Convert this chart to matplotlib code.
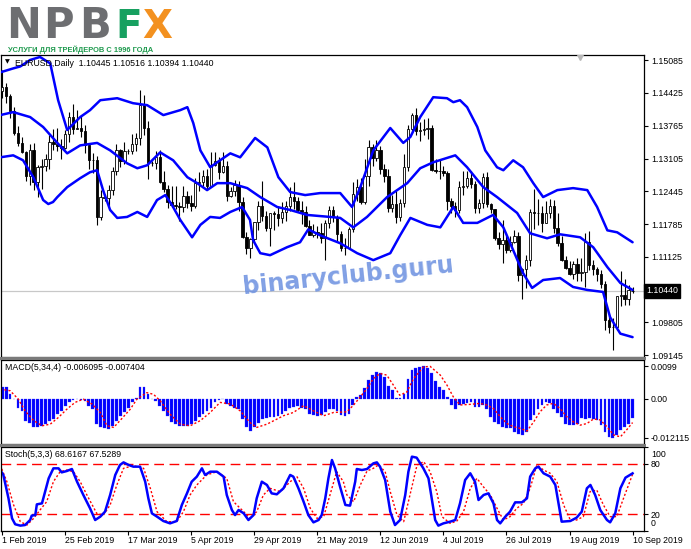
import numpy as np
import matplotlib
matplotlib.use("Agg")
import matplotlib.pyplot as plt
from matplotlib.patches import Rectangle
import matplotlib.transforms as mtransforms
from matplotlib import font_manager

# ---- data (EURUSD daily, 1 Feb 2019 - 10 Sep 2019) ----
x_labels = ["1 Feb 2019", "25 Feb 2019", "17 Mar 2019", "5 Apr 2019", "29 Apr 2019",
            "21 May 2019", "12 Jun 2019", "4 Jul 2019", "26 Jul 2019", "19 Aug 2019",
            "10 Sep 2019"]
x_label_bars = [0, 16, 32, 48, 64, 80, 96, 112, 128, 144, 160]

opens = [1.1446, 1.1455, 1.1437, 1.1406, 1.1362, 1.1342, 1.1323, 1.1275, 1.1327, 1.1263,
         1.1294, 1.1295, 1.1309, 1.1343, 1.1339, 1.1336, 1.1331, 1.1359, 1.1395, 1.1371,
         1.1372, 1.1365, 1.1337, 1.1307, 1.1308, 1.1193, 1.1234, 1.1232, 1.1247, 1.1286,
         1.1327, 1.1305, 1.1326, 1.1325, 1.1339, 1.1352, 1.1418, 1.1373, 1.1301, 1.1302,
         1.1313, 1.1264, 1.1250, 1.1223, 1.1218, 1.1215, 1.1213, 1.1235, 1.1221, 1.1216,
         1.1262, 1.1264, 1.1275, 1.1256, 1.1297, 1.1305, 1.1284, 1.1295, 1.1235, 1.1246,
         1.1258, 1.1224, 1.1152, 1.1130, 1.1148, 1.1182, 1.1215, 1.1195, 1.1170, 1.1200,
         1.1198, 1.1190, 1.1203, 1.1215, 1.1234, 1.1225, 1.1206, 1.1203, 1.1174, 1.1157,
         1.1163, 1.1160, 1.1150, 1.1180, 1.1206, 1.1193, 1.1158, 1.1130, 1.1130, 1.1168,
         1.1240, 1.1253, 1.1223, 1.1276, 1.1333, 1.1312, 1.1327, 1.1290, 1.1275, 1.1210,
         1.1220, 1.1193, 1.1222, 1.1293, 1.1370, 1.1398, 1.1366, 1.1368, 1.1370, 1.1373,
         1.1287, 1.1286, 1.1285, 1.1282, 1.1226, 1.1214, 1.1207, 1.1253, 1.1256, 1.1271,
         1.1260, 1.1211, 1.1222, 1.1274, 1.1219, 1.1209, 1.1151, 1.1139, 1.1146, 1.1127,
         1.1142, 1.1154, 1.1077, 1.1088, 1.1107, 1.1203, 1.1200, 1.1201, 1.1181, 1.1201,
         1.1214, 1.1170, 1.1140, 1.1107, 1.1091, 1.1078, 1.1098, 1.1081, 1.1083, 1.1143,
         1.1097, 1.1088, 1.1078, 1.1057, 1.0985, 1.0971, 1.0972, 1.1033, 1.1036, 1.1027,
         1.10445]
highs = [1.1488, 1.1462, 1.1441, 1.1414, 1.1377, 1.1354, 1.1326, 1.1340, 1.1341, 1.1297,
         1.1309, 1.1319, 1.1357, 1.1371, 1.1372, 1.1349, 1.1368, 1.1405, 1.1420, 1.1409,
         1.1398, 1.1378, 1.1339, 1.1322, 1.1316, 1.1248, 1.1240, 1.1257, 1.1293, 1.1339,
         1.1330, 1.1344, 1.1330, 1.1360, 1.1362, 1.1448, 1.1438, 1.1387, 1.1305, 1.1325,
         1.1327, 1.1285, 1.1257, 1.1255, 1.1255, 1.1223, 1.1255, 1.1245, 1.1237, 1.1272,
         1.1283, 1.1287, 1.1289, 1.1324, 1.1323, 1.1314, 1.1324, 1.1306, 1.1254, 1.1267,
         1.1265, 1.1234, 1.1162, 1.1151, 1.1183, 1.1225, 1.1265, 1.1205, 1.1200, 1.1205,
         1.1216, 1.1223, 1.1226, 1.1254, 1.1264, 1.1233, 1.1226, 1.1215, 1.1186, 1.1178,
         1.1175, 1.1180, 1.1187, 1.1214, 1.1216, 1.1196, 1.1165, 1.1150, 1.1172, 1.1264,
         1.1270, 1.1272, 1.1310, 1.1347, 1.1340, 1.1348, 1.1335, 1.1300, 1.1290, 1.1237,
         1.1245, 1.1230, 1.1320, 1.1378, 1.1403, 1.1412, 1.1384, 1.1390, 1.1393, 1.1378,
         1.1310, 1.1308, 1.1295, 1.1286, 1.1232, 1.1223, 1.1265, 1.1286, 1.1286, 1.1285,
         1.1265, 1.1229, 1.1282, 1.1283, 1.1222, 1.1209, 1.1163, 1.1187, 1.1160, 1.1154,
         1.1166, 1.1163, 1.1090, 1.1116, 1.1208, 1.1250, 1.1229, 1.1216, 1.1225, 1.1230,
         1.1227, 1.1200, 1.1155, 1.1114, 1.1104, 1.1104, 1.1110, 1.1110, 1.1160, 1.1164,
         1.1106, 1.1092, 1.1087, 1.1065, 1.0996, 1.0990, 1.1034, 1.1085, 1.1068, 1.1055,
         1.10516]
lows = [1.1432, 1.1423, 1.1392, 1.1358, 1.1336, 1.1321, 1.1266, 1.1258, 1.1248, 1.1234,
        1.1249, 1.1285, 1.1289, 1.1328, 1.1325, 1.1310, 1.1329, 1.1344, 1.1360, 1.1370,
        1.1353, 1.1321, 1.1290, 1.1282, 1.1176, 1.1187, 1.1226, 1.1216, 1.1238, 1.1278,
        1.1294, 1.1300, 1.1320, 1.1320, 1.1325, 1.1338, 1.1357, 1.1270, 1.1296, 1.1290,
        1.1262, 1.1243, 1.1211, 1.1213, 1.1208, 1.1184, 1.1202, 1.1210, 1.1205, 1.1210,
        1.1245, 1.1255, 1.1248, 1.1254, 1.1296, 1.1269, 1.1282, 1.1226, 1.1234, 1.1235,
        1.1205, 1.1150, 1.1118, 1.1110, 1.1141, 1.1167, 1.1185, 1.1165, 1.1135, 1.1166,
        1.1175, 1.1181, 1.1185, 1.1205, 1.1209, 1.1203, 1.1178, 1.1173, 1.1157, 1.1153,
        1.1150, 1.1140, 1.1106, 1.1170, 1.1183, 1.1145, 1.1125, 1.1116, 1.1128, 1.1162,
        1.1225, 1.1220, 1.1220, 1.1255, 1.1296, 1.1305, 1.1280, 1.1263, 1.1202, 1.1203,
        1.1181, 1.1185, 1.1213, 1.1285, 1.1365, 1.1357, 1.1346, 1.1358, 1.1350, 1.1285,
        1.1281, 1.1270, 1.1275, 1.1207, 1.1201, 1.1193, 1.1200, 1.1237, 1.1251, 1.1252,
        1.1200, 1.1200, 1.1210, 1.1213, 1.1201, 1.1147, 1.1128, 1.1101, 1.1120, 1.1122,
        1.1140, 1.1065, 1.1027, 1.1050, 1.1094, 1.1168, 1.1176, 1.1163, 1.1180, 1.1190,
        1.1160, 1.1135, 1.1104, 1.1088, 1.1076, 1.1069, 1.1065, 1.1064, 1.1051, 1.1087,
        1.1076, 1.1065, 1.1050, 1.0965, 1.0959, 1.0926, 1.0966, 1.1013, 1.1015, 1.1015,
        1.10394]
closes = [1.1455, 1.1437, 1.1406, 1.1362, 1.1342, 1.1323, 1.1275, 1.1327, 1.1263, 1.1294,
          1.1295, 1.1309, 1.1343, 1.1339, 1.1336, 1.1331, 1.1359, 1.1395, 1.1371, 1.1372,
          1.1365, 1.1337, 1.1307, 1.1308, 1.1193, 1.1234, 1.1232, 1.1247, 1.1286, 1.1327,
          1.1305, 1.1326, 1.1325, 1.1339, 1.1352, 1.1418, 1.1373, 1.1301, 1.1302, 1.1313,
          1.1264, 1.1250, 1.1223, 1.1218, 1.1215, 1.1213, 1.1235, 1.1221, 1.1216, 1.1262,
          1.1264, 1.1275, 1.1256, 1.1297, 1.1305, 1.1284, 1.1295, 1.1235, 1.1246, 1.1258,
          1.1224, 1.1152, 1.1130, 1.1148, 1.1182, 1.1215, 1.1195, 1.1170, 1.1200, 1.1198,
          1.1190, 1.1203, 1.1215, 1.1234, 1.1225, 1.1206, 1.1203, 1.1174, 1.1157, 1.1163,
          1.1160, 1.1150, 1.1180, 1.1206, 1.1193, 1.1158, 1.1130, 1.1130, 1.1168, 1.1240,
          1.1253, 1.1223, 1.1276, 1.1333, 1.1312, 1.1327, 1.1290, 1.1275, 1.1210, 1.1220,
          1.1193, 1.1222, 1.1293, 1.1370, 1.1398, 1.1366, 1.1368, 1.1370, 1.1373, 1.1287,
          1.1286, 1.1285, 1.1282, 1.1226, 1.1214, 1.1207, 1.1253, 1.1256, 1.1271, 1.1260,
          1.1211, 1.1222, 1.1274, 1.1219, 1.1209, 1.1151, 1.1139, 1.1146, 1.1127, 1.1142,
          1.1154, 1.1077, 1.1088, 1.1107, 1.1203, 1.1200, 1.1201, 1.1181, 1.1201, 1.1214,
          1.1170, 1.1140, 1.1107, 1.1091, 1.1078, 1.1098, 1.1081, 1.1083, 1.1143, 1.1097,
          1.1088, 1.1078, 1.1057, 1.0985, 1.0971, 1.0972, 1.1033, 1.1036, 1.1027, 1.1045,
          1.10440]

# Bollinger bands (20, 2): bar position, price
bb_upper_bars = [-0.5, 2.8, 4.6, 7.1, 9.6, 12.2, 14.2, 16.5, 19.8, 22.3, 24.9, 29.2, 33.2,
                 36.8, 40.9, 45.2, 47.0, 48.5, 50.3, 52.8, 55.3, 57.9, 60.4, 64.2, 67.3,
                 70.1, 73.1, 76.9, 80.7, 85.8, 88.8, 90.9, 94.2, 98.5, 101.8, 103.6, 106.1,
                 109.4, 112.9, 114.5, 116.2, 118.0, 120.6, 122.6, 125.6, 127.2, 129.7, 132.2,
                 134.8, 137.3, 140.9, 144.9, 148.5, 151.0, 153.6, 156.1, 160.0]
bb_upper = [1.1484, 1.1492, 1.1496, 1.1509, 1.1515, 1.1502, 1.1428, 1.1368, 1.1394, 1.1408,
            1.1428, 1.1432, 1.1422, 1.1418, 1.1398, 1.1408, 1.1414, 1.1382, 1.1327, 1.1293,
            1.1307, 1.1321, 1.1313, 1.1352, 1.1333, 1.1273, 1.1243, 1.1237, 1.1241, 1.1241,
            1.1213, 1.1253, 1.1327, 1.1372, 1.1342, 1.1354, 1.1394, 1.1434, 1.1432, 1.1424,
            1.1428, 1.1414, 1.1374, 1.1327, 1.1293, 1.1287, 1.1307, 1.1293, 1.1261, 1.1233,
            1.1247, 1.1251, 1.1247, 1.1213, 1.1166, 1.1162, 1.1142]
bb_middle_bars = [-0.5, 2.8, 7.1, 10.4, 14.0, 16.5, 19.8, 24.1, 27.4, 31.7, 34.3, 36.8, 40.1,
                  43.4, 47.0, 49.5, 52.0, 54.6, 57.9, 62.2, 65.5, 69.8, 73.1, 77.4, 83.2,
                  85.8, 89.1, 92.6, 97.7, 102.8, 106.1, 109.4, 115.0, 118.0, 122.1, 125.6,
                  130.7, 134.0, 138.3, 141.6, 146.7, 150.0, 153.6, 156.9, 160.0]
bb_middle = [1.1398, 1.1404, 1.1394, 1.1374, 1.1342, 1.1321, 1.1337, 1.1342, 1.1327, 1.1301,
             1.1291, 1.1297, 1.1323, 1.1307, 1.1273, 1.1261, 1.1247, 1.1261, 1.1261, 1.1251,
             1.1233, 1.1213, 1.1207, 1.1197, 1.1193, 1.1191, 1.1172, 1.1193, 1.1233, 1.1261,
             1.1291, 1.1303, 1.1317, 1.1293, 1.1253, 1.1233, 1.1201, 1.1160, 1.1150, 1.1158,
             1.1152, 1.1132, 1.1092, 1.1060, 1.1046]
bb_lower_bars = [-0.5, 2.8, 5.3, 7.9, 10.4, 11.7, 12.9, 14.0, 16.5, 19.8, 22.3, 24.1, 25.6,
                 27.4, 29.2, 31.7, 34.3, 36.8, 39.3, 41.4, 43.1, 45.2, 48.2, 50.3, 52.8,
                 55.3, 57.9, 60.9, 62.9, 63.7, 65.5, 68.0, 72.3, 75.6, 77.7, 80.7, 85.8,
                 90.1, 94.2, 98.5, 101.0, 103.6, 107.9, 111.2, 114.5, 117.0, 120.6, 124.6,
                 127.2, 129.7, 132.2, 134.5, 137.3, 141.6, 144.9, 148.5, 152.5, 154.3,
                 156.9, 160.0]
bb_lower = [1.1313, 1.1317, 1.1307, 1.1273, 1.1227, 1.1219, 1.1223, 1.1233, 1.1253, 1.1271,
            1.1283, 1.1287, 1.1247, 1.1207, 1.1191, 1.1193, 1.1203, 1.1193, 1.1227, 1.1237,
            1.1217, 1.1187, 1.1152, 1.1177, 1.1193, 1.1191, 1.1203, 1.1213, 1.1187, 1.1146,
            1.1120, 1.1116, 1.1132, 1.1142, 1.1168, 1.1156, 1.1140, 1.1120, 1.1106, 1.1120,
            1.1156, 1.1191, 1.1177, 1.1172, 1.1213, 1.1181, 1.1181, 1.1197, 1.1172, 1.1126,
            1.1080, 1.1050, 1.1066, 1.1070, 1.1052, 1.1046, 1.1042, 1.0991, 1.0958, 1.0951]

price_ticks = [1.15085, 1.14425, 1.13765, 1.13105, 1.12445, 1.11785, 1.11125, 1.09805, 1.09145]
last_price = 1.10440

# MACD(5,34,4) histogram, one value per bar
macd_hist = [0.0036, 0.0034, 0.0015, -0.0003, -0.0028, -0.0038, -0.0068, -0.0074, -0.0089, -0.0089,
             -0.0086, -0.0079, -0.0068, -0.0063, -0.0048, -0.0038, -0.0022, -0.0010, -0.0004, -0.0002,
             -0.0004, -0.0007, -0.0022, -0.0033, -0.0079, -0.0089, -0.0092, -0.0094, -0.0084, -0.0068,
             -0.0053, -0.0041, -0.0028, -0.0012, 0.0003, 0.0034, 0.0034, 0.0013, 0.0000, -0.0007,
             -0.0022, -0.0038, -0.0053, -0.0072, -0.0079, -0.0084, -0.0086, -0.0084, -0.0079, -0.0068,
             -0.0058, -0.0048, -0.0038, -0.0028, -0.0012, -0.0005, -0.0002, -0.0017, -0.0022, -0.0028,
             -0.0033, -0.0063, -0.0089, -0.0099, -0.0089, -0.0074, -0.0063, -0.0061, -0.0058, -0.0056,
             -0.0053, -0.0048, -0.0038, -0.0028, -0.0025, -0.0022, -0.0028, -0.0033, -0.0048, -0.0051,
             -0.0053, -0.0051, -0.0043, -0.0033, -0.0031, -0.0038, -0.0051, -0.0053, -0.0048, -0.0020,
             0.0005, 0.0012, 0.0031, 0.0056, 0.0072, 0.0082, 0.0077, 0.0066, 0.0039, 0.0026,
             0.0002, 0.0002, 0.0015, 0.0061, 0.0088, 0.0095, 0.0097, 0.0099, 0.0094, 0.0080,
             0.0053, 0.0036, 0.0026, 0.0005, -0.0020, -0.0031, -0.0020, -0.0018, -0.0015, -0.0010,
             -0.0026, -0.0026, -0.0020, -0.0031, -0.0056, -0.0072, -0.0077, -0.0087, -0.0092, -0.0092,
             -0.0104, -0.0110, -0.0112, -0.0102, -0.0066, -0.0051, -0.0033, -0.0020, -0.0010, -0.0015,
             -0.0031, -0.0046, -0.0056, -0.0077, -0.0080, -0.0082, -0.0077, -0.0061, -0.0063, -0.0061,
             -0.0063, -0.0066, -0.0082, -0.0104, -0.0118, -0.012115, -0.0112, -0.0097, -0.0087, -0.0077,
             -0.006095]
# signal line, points
signal_bars = [-0.5, 2.0, 4.1, 5.8, 8.0, 10.1, 12.2, 14.3, 16.4, 18.5, 20.6, 22.8, 24.9, 26.6,
               28.3, 29.9, 32.5, 34.2, 36.7, 38.4, 40.1, 42.6, 45.2, 47.7, 50.3, 52.8, 55.3,
               57.9, 60.4, 62.9, 64.6, 67.2, 71.4, 73.9, 76.5, 79.0, 81.6, 84.1, 87.5, 89.2,
               90.9, 92.6, 94.2, 95.9, 97.6, 99.3, 100.9, 102.7, 104.4, 106.9, 108.6, 111.2,
               112.9, 114.5, 116.2, 118.8, 121.3, 123.0, 124.7, 126.4, 128.1, 129.8, 131.5,
               133.2, 134.9, 136.5, 138.2, 139.9, 141.6, 143.3, 145.0, 146.7, 148.4, 150.1,
               151.8, 153.5, 155.2, 156.9, 158.6, 160.0]
macd_signal = [0.0029, 0.0024, -0.0002, -0.0038, -0.0068, -0.0084, -0.0079, -0.0058, -0.0033,
               -0.0012, -0.0002, -0.0017, -0.0043, -0.0084, -0.0089, -0.0068, -0.0033, -0.0002,
               0.0018, 0.0013, -0.0007, -0.0048, -0.0079, -0.0084, -0.0068, -0.0043, -0.0012,
               -0.0017, -0.0038, -0.0074, -0.0089, -0.0079, -0.0053, -0.0043, -0.0022, -0.0038,
               -0.0053, -0.0043, -0.0041, -0.0020, 0.0005, 0.0031, 0.0061, 0.0077, 0.0072,
               0.0041, 0.0010, 0.0020, 0.0061, 0.0097, 0.0099, 0.0072, 0.0041, 0.0005, -0.0020,
               -0.0018, -0.0015, -0.0020, -0.0031, -0.0056, -0.0077, -0.0087, -0.0092, -0.0100,
               -0.0072, -0.0041, -0.0020, -0.0015, -0.0031, -0.0056, -0.0072, -0.0082, -0.0077,
               -0.0063, -0.0066, -0.0087, -0.0112, -0.0118, -0.0095, -0.007404]
macd_ticks = [0.0099, 0.0, -0.012115]
macd_tick_labels = ["0.0099", "0.00", "-0.012115"]

# Stochastic(5,3,3): %K (blue) and %D (red dotted)
stoch_k_bars = [-0.5, 0.3, 1.6, 2.5, 3.3, 4.6, 5.8, 7.1, 7.5, 8.4, 8.8, 10.1, 10.9, 11.8, 13.0,
                14.3, 15.1, 16.4, 17.7, 19.0, 20.6, 22.3, 23.6, 24.9, 26.1, 27.4, 28.7, 29.9,
                30.8, 32.1, 33.3, 35.0, 36.3, 37.1, 38.0, 39.3, 40.9, 42.6, 44.3, 45.6, 46.9,
                48.1, 49.4, 50.7, 51.5, 52.8, 54.5, 56.2, 57.0, 58.3, 59.1, 60.0, 61.3, 62.5,
                63.8, 64.6, 65.9, 67.2, 68.4, 69.7, 71.4, 73.1, 73.9, 75.2, 76.5, 77.7, 79.0,
                80.3, 81.1, 82.0, 82.8, 83.7, 84.5, 85.8, 87.1, 88.3, 89.6, 90.0, 91.3, 92.6,
                94.2, 95.1, 95.9, 97.2, 98.5, 99.7, 101.0, 102.3, 103.1, 104.0, 105.2, 106.9,
                108.2, 109.9, 110.7, 112.0, 113.7, 115.0, 116.2, 117.5, 118.8, 120.0, 120.9,
                122.2, 123.4, 124.7, 125.6, 126.4, 127.7, 128.9, 130.2, 131.9, 133.2, 134.0,
                135.3, 136.1, 137.4, 139.1, 140.4, 142.0, 144.2, 145.8, 147.1, 148.4, 149.3,
                150.5, 151.8, 153.5, 154.3, 155.6, 156.9, 158.2, 160.0]
stoch_k = [72.6, 66.7, 38.9, 15.1, 8.0, 6.4, 7.1, 13.1, 18.3, 19.0, 31.7, 32.9, 46.8, 62.7, 74.6,
           74.6, 69.8, 71.4, 73.8, 58.7, 42.9, 27.0, 13.1, 17.1, 23.0, 42.9, 66.7, 78.6, 81.7,
           78.6, 76.6, 76.6, 58.7, 38.9, 21.0, 17.1, 11.9, 9.1, 11.9, 31.0, 44.8, 58.7, 64.7,
           74.6, 66.7, 70.6, 70.6, 64.7, 42.9, 25.0, 19.0, 25.0, 21.0, 13.1, 19.0, 38.9, 58.7,
           54.8, 44.8, 43.7, 50.8, 66.7, 64.7, 50.8, 34.9, 19.0, 10.3, 13.1, 19.0, 38.9, 62.7,
           84.5, 74.6, 52.0, 31.0, 30.2, 58.7, 73.8, 72.6, 73.8, 80.5, 81.7, 76.6, 60.7, 23.0,
           7.1, 13.1, 42.9, 70.6, 88.5, 87.3, 74.6, 62.7, 13.1, 6.4, 9.1, 11.1, 13.1, 32.9,
           60.7, 68.7, 58.7, 36.9, 42.9, 44.8, 32.9, 13.1, 9.1, 17.1, 23.0, 34.1, 34.1, 38.9,
           64.7, 74.6, 76.6, 68.7, 64.7, 54.8, 11.1, 11.9, 15.9, 23.0, 50.8, 54.8, 42.9, 25.0,
           13.1, 10.3, 21.0, 50.8, 63.5, 68.6167]
stoch_d_bars = [-0.5, 1.2, 2.9, 4.6, 6.3, 8.0, 9.6, 11.3, 13.0, 14.7, 16.4, 18.1, 19.8, 21.5,
                24.0, 25.7, 27.4, 29.1, 30.8, 33.3, 35.9, 37.6, 39.3, 41.8, 44.3, 46.0, 47.7,
                49.4, 51.9, 54.5, 57.0, 58.7, 61.3, 62.9, 64.6, 66.3, 68.0, 70.6, 73.1, 74.8,
                76.5, 78.2, 79.9, 81.6, 83.2, 84.9, 86.6, 87.5, 89.2, 90.9, 92.6, 94.2, 95.5,
                97.2, 98.5, 100.2, 101.9, 103.5, 105.3, 107.0, 108.6, 110.3, 111.6, 113.7,
                115.4, 117.1, 118.8, 120.5, 122.1, 123.9, 125.6, 127.2, 128.9, 130.6, 132.3,
                134.0, 135.7, 137.4, 139.1, 140.8, 142.5, 144.2, 145.8, 147.5, 149.2, 150.9,
                152.6, 154.3, 156.0, 157.7, 160.0]
stoch_d = [78.6, 58.7, 31.0, 11.1, 7.1, 15.1, 25.0, 34.9, 58.7, 70.6, 72.6, 70.6, 58.7, 42.9,
           21.0, 19.0, 31.0, 54.8, 74.6, 77.8, 74.6, 50.8, 23.0, 11.1, 11.1, 23.0, 42.9, 54.8,
           66.7, 70.6, 62.7, 34.9, 23.0, 15.1, 23.0, 42.9, 50.8, 46.8, 58.7, 64.7, 50.8, 27.0,
           15.1, 17.1, 42.9, 70.6, 58.7, 42.9, 34.9, 54.8, 71.4, 74.6, 78.6, 70.6, 46.8, 19.0,
           11.1, 42.9, 78.6, 82.5, 70.6, 46.8, 17.1, 9.1, 11.9, 23.0, 50.8, 62.7, 52.8, 42.9,
           27.0, 13.1, 17.1, 27.0, 32.9, 50.8, 78.6, 72.6, 68.7, 58.7, 31.0, 13.1, 13.1, 17.1,
           46.8, 48.8, 31.0, 17.1, 17.1, 38.9, 67.5289]

# ---- figure ----
W, H = 691, 549
fig = plt.figure(figsize=(W / 100, H / 100), dpi=100)
plt.rcParams["font.family"] = ["Liberation Sans", "DejaVu Sans"]
FS = 6.3


def px_axes(x0, y0, x1, y1):
    return fig.add_axes([x0 / W, 1 - y1 / H, (x1 - x0) / W, (y1 - y0) / H])


ax1 = px_axes(1, 55, 644, 357)
ax2 = px_axes(1, 359.5, 644, 444)
ax3 = px_axes(1, 447, 644, 531)

# panel separators like the terminal draws them
for y0, y1 in [(357, 359.5), (444, 447)]:
    fig.patches.append(Rectangle((0, 1 - y1 / H), 646 / W, (y1 - y0) / H,
                                 transform=fig.transFigure, facecolor="#7a7a7a",
                                 edgecolor="none"))

xlim = (-0.3, 162.9)
for ax in (ax1, ax2, ax3):
    ax.set_xlim(*xlim)
    for s in ax.spines.values():
        s.set_color("black")
        s.set_linewidth(0.9)
    ax.yaxis.tick_right()
    ax.tick_params(axis="y", direction="out", length=3, width=0.8, pad=2,
                   labelsize=FS, colors="black")
    ax.tick_params(axis="x", bottom=False, labelbottom=False)

# ---- main candle panel ----
o = np.array(opens)
h = np.array(highs)
l = np.array(lows)
c = np.array(closes)
idx = np.arange(len(c))
up = c >= o

ax1.axhline(last_price, color="#c8c8c8", lw=0.9, zorder=1)
ax1.vlines(idx, l, h, color="black", lw=0.8, zorder=2)
ax1.bar(idx[up], np.maximum(c[up] - o[up], 0.00003), bottom=o[up], width=0.62,
        color="white", edgecolor="black", linewidth=0.6, zorder=3)
ax1.bar(idx[~up], np.maximum(o[~up] - c[~up], 0.00003), bottom=c[~up], width=0.62,
        color="black", edgecolor="black", linewidth=0.6, zorder=3)

for bx, band in ((bb_upper_bars, bb_upper), (bb_middle_bars, bb_middle),
                 (bb_lower_bars, bb_lower)):
    ax1.plot(bx, band, color="#0000ff", lw=1.8, zorder=4,
             solid_joinstyle="round", solid_capstyle="round")

ax1.set_ylim(1.0911, 1.1519)
ax1.set_yticks(price_ticks)
ax1.set_yticklabels([f"{v:.5f}" for v in price_ticks])

ax1.text(1.003, last_price, "1.10440", transform=mtransforms.blended_transform_factory(
    ax1.transAxes, ax1.transData), color="white", fontsize=FS, va="center", ha="left",
    bbox=dict(facecolor="black", edgecolor="black", pad=1.6), clip_on=False, zorder=6)

ax1.text(0.006, 0.985, "\u25bc", transform=ax1.transAxes, fontsize=4.5, va="top",
         ha="left", family="DejaVu Sans")
ax1.text(0.022, 0.986, "EURUSD,Daily  1.10445 1.10516 1.10394 1.10440",
         transform=ax1.transAxes, fontsize=FS, va="top", ha="left", zorder=7)
ax1.plot([146.7], [1.1514], marker="v", color="#b8b8b8", markersize=5, zorder=5)

# ---- MACD panel ----
ax2.bar(np.arange(len(macd_hist)), macd_hist, width=0.7, color="#0000ff",
        edgecolor="#3a3aff", linewidth=0.2)
ax2.plot(signal_bars, macd_signal, color="#ff0000", lw=1.0, linestyle=(0, (1.5, 1.5)))
ax2.set_ylim(-0.0140, 0.0120)
ax2.set_yticks(macd_ticks)
ax2.set_yticklabels(macd_tick_labels)
ax2.text(0.006, 0.96, "MACD(5,34,4) -0.006095 -0.007404", transform=ax2.transAxes,
         fontsize=FS, va="top", ha="left")

# ---- Stochastic panel ----
for lvl in (20, 80):
    ax3.axhline(lvl, color="#ff0000", lw=1.0, linestyle=(0, (7, 4)))
ax3.plot(stoch_d_bars, stoch_d, color="#ff0000", lw=1.0, linestyle=(0, (1.5, 1.5)))
ax3.plot(stoch_k_bars, stoch_k, color="#0000ff", lw=1.8, solid_joinstyle="round")
ax3.set_ylim(0, 100)
ax3.set_yticks([100, 80, 20, 0])
ax3.set_yticklabels(["100", "80", "20", "0"])
ytl = ax3.get_yticklabels()
ytl[0].set_va("top")
ytl[0].set_transform(ytl[0].get_transform() +
                     mtransforms.ScaledTranslation(0, -3 / 100, fig.dpi_scale_trans))
ytl[3].set_va("bottom")
ytl[3].set_transform(ytl[3].get_transform() +
                     mtransforms.ScaledTranslation(0, 3 / 100, fig.dpi_scale_trans))
ax3.text(0.006, 0.96, "Stoch(5,3,3) 68.6167 67.5289", transform=ax3.transAxes,
         fontsize=FS, va="top", ha="left")

ax3.tick_params(axis="x", bottom=True, labelbottom=True, direction="out", length=3,
                width=0.8, pad=0.5, labelsize=FS)
ax3.set_xticks(x_label_bars)
ax3.set_xticklabels(x_labels, ha="left")

# ---- logo and watermark ----
for ch, x0, col, fs in (("N", 6, "#6d6e71", 30), ("P", 43, "#6d6e71", 30),
                        ("B", 79, "#6d6e71", 30), ("F", 115, "#17a060", 28),
                        ("X", 142, "#f39120", 28)):
    fig.text(x0 / W, 1 - 38 / H, ch, fontsize=fs, fontweight="bold", color=col,
             family="DejaVu Sans", va="baseline", ha="left")

available = {f.name for f in font_manager.fontManager.ttflist}
if "Liberation Sans Narrow" in available:
    sub_family, sub_size = "Liberation Sans Narrow", 6.6
else:
    sub_family, sub_size = "Liberation Sans", 5.4
fig.text(8 / W, 1 - 52 / H, "УСЛУГИ ДЛЯ ТРЕЙДЕРОВ С 1996 ГОДА", fontsize=sub_size,
         fontweight="bold", color="#1f9a4e", va="baseline", ha="left",
         family=[sub_family, "DejaVu Sans"])

fig.text(348 / W, 1 - 276 / H, "binaryclub.guru", fontsize=17, fontweight="bold",
         color="#6a8fe0", alpha=0.85, rotation=6, ha="center", va="center",
         family="DejaVu Sans", rotation_mode="anchor", zorder=10)

fig.savefig("out.png", dpi=100)
